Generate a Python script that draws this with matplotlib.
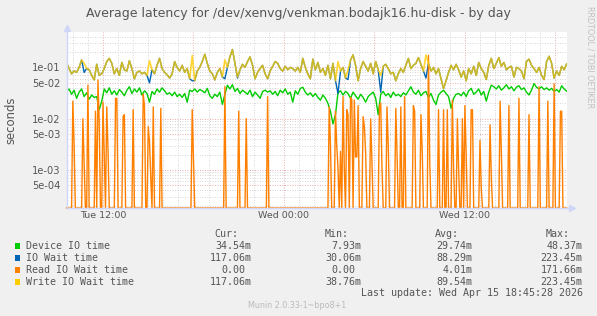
"""
Munin style chart of the average disk latency for
/dev/xenvg/venkman.bodajk16.hu-disk over one day (log scale).
"""

import numpy as np
import matplotlib
matplotlib.use("Agg")
import matplotlib.pyplot as plt
from matplotlib.lines import Line2D
from matplotlib.patches import Rectangle
from matplotlib.ticker import FixedLocator, FixedFormatter, NullFormatter

W, H = 597, 316

# times are hours since Tue 00:00
START_HOUR = 9 + 35 / 60
END_HOUR = 42.75

# Device IO time, ms, one value every 10 minutes
device_ms = [
    34, 38, 30, 36, 25, 33, 38, 27, 32, 24, 29, 26,
    27, 15, 22, 38, 32, 40, 30, 35, 29, 37, 33, 28,
    36, 42, 31, 38, 33, 40, 29, 35, 31, 21, 34, 30,
    38, 33, 40, 35, 30, 32, 28, 33, 27, 30, 26, 31,
    21, 36, 34, 38, 33, 37, 35, 32, 39, 28, 25, 30,
    27, 33, 19, 30, 45, 38, 46, 34, 39, 31, 36, 33,
    30, 36, 27, 33, 29, 25, 34, 36, 33, 35, 30, 34,
    28, 36, 32, 38, 30, 33, 21, 35, 30, 39, 41, 33,
    29, 32, 27, 31, 26, 23, 29, 25, 20, 14, 7.93, 12,
    32, 35, 29, 34, 31, 25, 33, 28, 24, 30, 26, 21,
    27, 30, 33, 25, 12, 30, 34, 28, 31, 26, 33, 28,
    30, 27, 32, 29, 35, 42, 33, 30, 36, 28, 32, 34,
    26, 31, 23, 19, 29, 33, 36, 31, 27, 16, 25, 30,
    31, 28, 33, 27, 35, 39, 30, 33, 38, 29, 34, 22,
    33, 45, 42, 38, 44, 36, 40, 46, 38, 42, 35, 41,
    44, 37, 40, 33, 29, 36, 48.37, 41, 38, 42, 37, 40,
    36, 39, 34, 37, 33, 44, 38, 34.54,
]

# Write IO wait time, ms, one value every 10 minutes
write_ms = [
    125, 95, 75, 85, 80, 100, 140, 120, 95, 90, 70, 57,
    115, 70, 75, 95, 130, 150, 120, 75, 95, 70, 125, 90,
    85, 135, 95, 60, 80, 85, 75, 80, 70, 135, 90, 75,
    110, 150, 95, 80, 72, 62, 75, 130, 100, 85, 110, 80,
    95, 60, 170, 55, 85, 100, 130, 180, 120, 85, 75, 57,
    80, 95, 65, 140, 100, 160, 223.45, 120, 65, 90, 115, 100,
    130, 160, 110, 60, 80, 95, 110, 75, 60, 85, 105, 130,
    120, 95, 85, 105, 90, 100, 95, 85, 100, 80, 150, 100,
    75, 60, 145, 90, 125, 80, 95, 70, 110, 60, 120, 55,
    130, 85, 100, 62, 90, 140, 175, 110, 55, 95, 130, 105,
    85, 120, 75, 130, 90, 70, 105, 115, 95, 75, 80, 55,
    75, 95, 80, 110, 150, 95, 110, 120, 155, 115, 85, 175,
    120, 85, 100, 75, 95, 60, 38.76, 55, 80, 110, 90, 115,
    90, 65, 85, 55, 95, 75, 105, 70, 125, 95, 80, 58,
    110, 150, 95, 120, 155, 105, 125, 90, 100, 105, 65, 100,
    95, 85, 60, 130, 145, 110, 95, 80, 100, 70, 58, 130,
    165, 120, 62, 85, 70, 105, 90, 117.06,
]

# IO wait time follows write wait, except at these moments
io_dip_hours = [10.74, 15.05, 17.97, 20.09, 21.0, 27.52, 28.25, 30.43, 33.49]
io_dip_ms = [80, 50, 55, 60, 62, 31, 58, 33, 62]

# Read IO wait time is zero except for short bursts (5 minute samples)
read_burst_hours = [
    9.98, 10.65, 11.04, 11.46, 11.67, 12.03, 12.23, 12.86, 13.33, 13.99,
    14.65, 15.02, 15.36, 15.81, 17.90, 20.09, 20.99, 21.52, 22.91, 27.02,
    27.38, 27.72, 27.88, 28.15, 28.41, 28.64, 28.94, 29.21, 29.71, 30.34,
    30.83, 31.43, 31.76, 32.03, 32.56, 33.05, 33.62, 34.21, 34.55, 34.84,
    35.18, 35.51, 35.84, 36.01, 36.44, 37.00, 37.66, 38.33, 38.92, 39.58,
    40.25, 40.91, 41.51, 41.91, 42.37,
]
read_burst_ms = [
    [22, 3.1], [10, 1.4], [45], [14], [57, 8], [21, 2], [17, 2.5], [25, 25],
    [11, 12], [15], [30, 18], [7, 3.6, 0.75], [17], [16], [15, 1.7], [42],
    [14], [10], [27], [17, 3.1], [14, 3, 1.1], [2.3], [27, 1.1], [15, 12],
    [26, 24], [23, 1.8, 1.8], [18], [11, 7, 2.2], [10, 1.5], [18, 20, 1.1],
    [17, 3], [16, 2], [17], [27], [18, 14], [12, 2.5], [171.66, 1.5], [15],
    [15], [15], [23, 1.1], [10, 1.1], [10], [18, 2.1], [15, 15], [3.8, 0.45],
    [7.6, 0.75], [22, 2.3], [18], [25], [12], [42], [22], [48], [14, 14],
]

legend_names = ["Device IO time", "IO Wait time", "Read IO Wait time", "Write IO Wait time"]
legend_colors = ["#00CC00", "#0066B3", "#FF8000", "#FFCC00"]
cur_vals = ["34.54m", "117.06m", "0.00", "117.06m"]
min_vals = ["7.93m", "30.06m", "0.00", "38.76m"]
avg_vals = ["29.74m", "88.29m", "4.01m", "89.54m"]
max_vals = ["48.37m", "223.45m", "171.66m", "223.45m"]

y_tick_values = [5e-4, 1e-3, 5e-3, 1e-2, 5e-2, 1e-1]
y_tick_labels = ["5e-04", "1e-03", "5e-03", "1e-02", "5e-02", "1e-01"]
x_tick_hours = [12, 18, 24, 30, 36, 42]
x_tick_labels = ["Tue 12:00", "", "Wed 00:00", "", "Wed 12:00", ""]

Y_LOW, Y_HIGH = 1.82e-4, 0.49
FONT = "#555555"
AXIS = "#CFD6F8"


def fpos(x, y):
    """Pixel position (from top left) to figure fraction."""
    return x / W, 1 - y / H


def build_series():
    t10 = START_HOUR + np.arange(len(write_ms)) / 6
    device = np.array(device_ms) / 1000
    write = np.array(write_ms) / 1000
    io = write.copy()
    for h, v in zip(io_dip_hours, io_dip_ms):
        io[int(round((h - START_HOUR) * 6))] = v / 1000

    n5 = int(round((END_HOUR - START_HOUR) * 12)) + 1
    t5 = START_HOUR + np.arange(n5) / 12
    read = np.zeros(n5)
    for h, vals in zip(read_burst_hours, read_burst_ms):
        i0 = int(round((h - START_HOUR) * 12))
        read[i0:i0 + len(vals)] = np.array(vals) / 1000
    # zero cannot be shown on a log axis: rrdtool puts it on the bottom
    read = np.where(read > 0, read, Y_LOW)
    return t10, device, io, write, t5, read


def plot_chart():
    t10, device, io, write, t5, read = build_series()

    fig = plt.figure(figsize=(W / 100, H / 100), dpi=100, facecolor="#F0F0F0")
    ax = fig.add_axes([67 / W, 1 - 208 / H, 500 / W, 176 / H])
    ax.set_facecolor("white")

    ax.plot(t10, device, color="#00CC00", lw=1.0, zorder=3)
    ax.plot(t10, io, color="#0066B3", lw=1.0, zorder=4)
    ax.plot(t5, read, color="#FF8000", lw=1.0, zorder=5, clip_on=False)
    ax.plot(t10, write, color="#FFCC00", lw=1.2, alpha=0.8, zorder=6)

    ax.set_yscale("log")
    ax.set_ylim(Y_LOW, Y_HIGH)
    ax.set_xlim(9.613, 42.77)

    ax.yaxis.set_major_locator(FixedLocator(y_tick_values))
    ax.yaxis.set_major_formatter(FixedFormatter(y_tick_labels))
    minor_y = [m * 10.0 ** e for e in (-4, -3, -2, -1) for m in (2, 3, 4, 6, 7, 8, 9)]
    minor_y = [v for v in minor_y if Y_LOW < v < Y_HIGH]
    ax.yaxis.set_minor_locator(FixedLocator(minor_y))
    ax.yaxis.set_minor_formatter(NullFormatter())

    ax.xaxis.set_major_locator(FixedLocator(x_tick_hours))
    ax.xaxis.set_major_formatter(FixedFormatter(x_tick_labels))
    ax.xaxis.set_minor_locator(FixedLocator(list(range(10, 43))))
    ax.xaxis.set_minor_formatter(NullFormatter())

    ax.grid(which="minor", color="#C8C8C8", linestyle=(0, (1, 2)), lw=0.6)
    ax.grid(which="major", color="#E89090", linestyle=(0, (1, 2)), lw=0.6)
    ax.set_axisbelow(True)
    ax.tick_params(which="both", length=0, labelsize=6.8, colors=FONT)
    ax.tick_params(axis="y", pad=4.5, labelsize=7.1)
    ax.tick_params(axis="x", pad=2.5)
    for side in ax.spines.values():
        side.set_visible(False)

    # axis lines with arrows
    x0, y0 = fpos(67, 208)
    fig.add_artist(Line2D([x0, x0], [y0, fpos(67, 30)[1]], color=AXIS, lw=1))
    fig.add_artist(Line2D([x0, fpos(569, 208)[0]], [y0, y0], color=AXIS, lw=1))
    tip = fpos(67, 28)
    fig.add_artist(Line2D([tip[0]], [tip[1]], marker="^", ms=5, color=AXIS, lw=0))
    tip = fpos(572, 208)
    fig.add_artist(Line2D([tip[0]], [tip[1]], marker=">", ms=5, color=AXIS, lw=0))

    fig.text(*fpos(298.5, 13),
             "Average latency for /dev/xenvg/venkman.bodajk16.hu-disk - by day",
             ha="center", va="center", fontsize=9.0, color=FONT)
    fig.text(*fpos(11, 120), "seconds", rotation=90, ha="center", va="center",
             fontsize=8.4, color=FONT)
    fig.text(*fpos(590, 57), "RRDTOOL / TOBI OETIKER", rotation=270,
             ha="center", va="center", fontsize=5.8, color="#C0C0C0")

    mono = dict(family="DejaVu Sans Mono", fontsize=7.2, color=FONT, va="center")
    for label, right in zip(["Cur:", "Min:", "Avg:", "Max:"], [238, 348.4, 459, 570]):
        fig.text(*fpos(right, 234), label, ha="right", **mono)

    col_right = [251.3, 361.8, 472.2, 582.6]
    for i, name in enumerate(legend_names):
        y = 245.7 + 12 * i
        sx, sy = fpos(14.5, y + 2.8)
        fig.add_artist(Rectangle((sx, sy), 5.5 / W, 5.5 / H, transform=fig.transFigure,
                                 facecolor=legend_colors[i], edgecolor="none"))
        fig.text(*fpos(26.5, y), name, ha="left", **mono)
        for col, vals in enumerate([cur_vals, min_vals, avg_vals, max_vals]):
            v = vals[i]
            right = col_right[col] if v.endswith("m") else col_right[col] - 6.0
            fig.text(*fpos(right, y), v, ha="right", **mono)

    fig.text(*fpos(582.6, 293.3), "Last update: Wed Apr 15 18:45:28 2026", ha="right", **mono)
    fig.text(*fpos(297.5, 305), "Munin 2.0.33-1~bpo8+1", ha="center", va="center",
             fontsize=5.8, color="#BBBBBB")

    fig.savefig("out.png", dpi=100, facecolor=fig.get_facecolor())


def execute():
    plot_chart()


if __name__ == "__main__":
    execute()
